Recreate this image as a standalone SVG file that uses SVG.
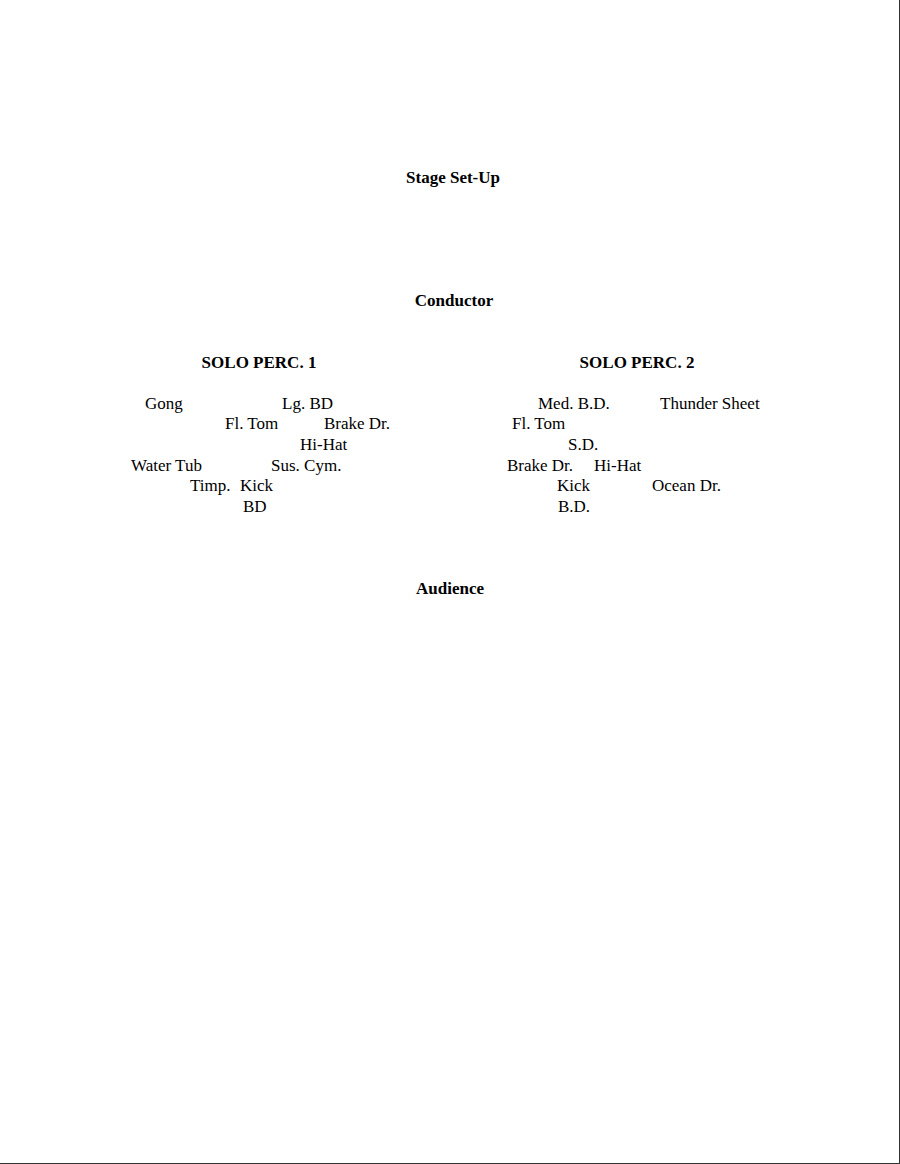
<svg xmlns="http://www.w3.org/2000/svg" width="900" height="1164" viewBox="0 0 900 1164">
<style>
text{font-family:"Liberation Serif","Times New Roman",serif;font-size:17px;fill:#000}
.h{font-weight:bold;text-anchor:middle}
</style>
<rect x="0" y="0" width="900" height="1164" fill="#fff"/>
<line x1="899.5" y1="0" x2="899.5" y2="1164" stroke="#333" stroke-width="1"/>
<line x1="0" y1="1163.5" x2="900" y2="1163.5" stroke="#333" stroke-width="1"/>
<g id="title"><text class="h" x="453" y="183">Stage Set-Up</text></g>
<g id="conductor"><text class="h" x="454" y="306">Conductor</text></g>
<g id="solo1"><text class="h" x="259" y="368">SOLO PERC. 1</text></g>
<g id="solo2"><text class="h" x="637" y="368">SOLO PERC. 2</text></g>
<g id="perc1">
<text x="145" y="409">Gong</text>
<text x="282" y="409">Lg. BD</text>
<text x="225" y="429">Fl. Tom</text>
<text x="324" y="429">Brake Dr.</text>
<text x="300" y="450">Hi-Hat</text>
<text x="131" y="471">Water Tub</text>
<text x="271" y="471">Sus. Cym.</text>
<text x="190" y="491">Timp.</text>
<text x="240" y="491">Kick</text>
<text x="243" y="512">BD</text>
</g>
<g id="perc2">
<text x="538" y="409">Med. B.D.</text>
<text x="660" y="409">Thunder Sheet</text>
<text x="512" y="429">Fl. Tom</text>
<text x="568" y="450">S.D.</text>
<text x="507" y="471">Brake Dr.</text>
<text x="594" y="471">Hi-Hat</text>
<text x="557" y="491">Kick</text>
<text x="652" y="491">Ocean Dr.</text>
<text x="558" y="512">B.D.</text>
</g>
<g id="audience"><text class="h" x="450" y="594">Audience</text></g>
<g id="connectors"></g>
</svg>
